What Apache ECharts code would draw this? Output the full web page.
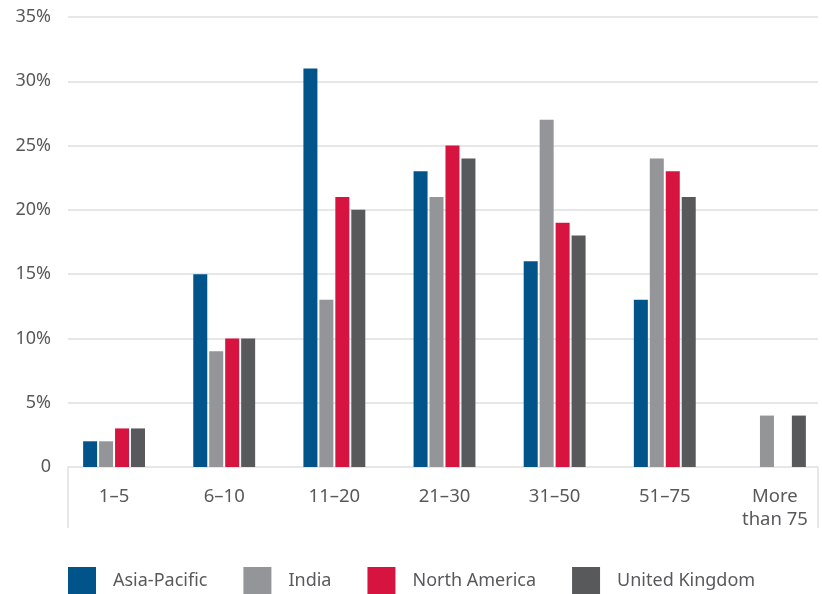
<!DOCTYPE html>
<html>
<head>
<meta charset="utf-8">
<script src="https://cdn.jsdelivr.net/npm/echarts@6/dist/echarts.min.js"></script>
<style>
  html, body { margin: 0; padding: 0; background: #fff; }
  #chart { width: 822px; height: 594px; }
</style>
</head>
<body>
<div id="chart"></div>
<script>
var categories = ["1–5", "6–10", "11–20", "21–30", "31–50", "51–75", "More\nthan 75"];
var seriesNames = ["Asia-Pacific", "India", "North America", "United Kingdom"];
var asiaPacific = [2, 15, 31, 23, 16, 13, null];
var india = [2, 9, 13, 21, 27, 24, 4];
var northAmerica = [3, 10, 21, 25, 19, 23, null];
var unitedKingdom = [3, 10, 20, 24, 18, 21, 4];
var colors = ["#00548a", "#939598", "#d71440", "#58595b"];

var chart = echarts.init(document.getElementById("chart"));
var font = "Noto Sans";
var lineColor = "#e7e7e7";
var textColor = "#58595b";

function bar(name, data, color) {
  return {
    name: name,
    type: "bar",
    xAxisIndex: 1,
    yAxisIndex: 1,
    data: data,
    barWidth: 14,
    barGap: "14%",
    itemStyle: { color: color },
    animation: false
  };
}

var option = {
  textStyle: { fontFamily: font },
  grid: [
    { left: 68, right: 4, top: 17, bottom: 127, outerBoundsMode: "none" },
    { left: 59, right: -8, top: 17, bottom: 127, outerBoundsMode: "none" }
  ],
  legend: {
    left: 68,
    top: 567,
    padding: 0,
    icon: "rect",
    itemWidth: 28,
    itemHeight: 27,
    itemGap: 36,
    data: seriesNames,
    textStyle: { fontSize: 18, color: textColor, fontFamily: font, padding: [0, 0, 0, 12] }
  },
  xAxis: [
    {
      // frame axis: baseline and the two end lines
      type: "category",
      gridIndex: 0,
      data: [""],
      axisLine: { show: true, lineStyle: { color: lineColor, width: 2 } },
      axisTick: { show: true, length: 61, lineStyle: { color: lineColor, width: 2 } },
      axisLabel: { show: false }
    },
    {
      type: "category",
      gridIndex: 1,
      data: categories,
      axisLine: { show: false },
      axisTick: { show: false },
      axisLabel: {
        fontSize: 18.5,
        lineHeight: 23,
        margin: 18,
        color: textColor,
        fontFamily: font,
        interval: 0
      }
    }
  ],
  yAxis: [
    {
      type: "value",
      gridIndex: 0,
      min: 0,
      max: 35,
      interval: 5,
      axisLine: { show: false },
      axisTick: { show: false },
      splitLine: { lineStyle: { color: lineColor, width: 2 } },
      axisLabel: {
        fontSize: 18,
        color: textColor,
        margin: 17,
        fontFamily: font,
        formatter: function (v) { return v === 0 ? "0" : v + "%"; }
      }
    },
    {
      type: "value",
      gridIndex: 1,
      min: 0,
      max: 35,
      interval: 5,
      show: false
    }
  ],
  series: [
    bar(seriesNames[0], asiaPacific, colors[0]),
    bar(seriesNames[1], india, colors[1]),
    bar(seriesNames[2], northAmerica, colors[2]),
    bar(seriesNames[3], unitedKingdom, colors[3])
  ]
};
chart.setOption(option);
</script>
</body>
</html>
